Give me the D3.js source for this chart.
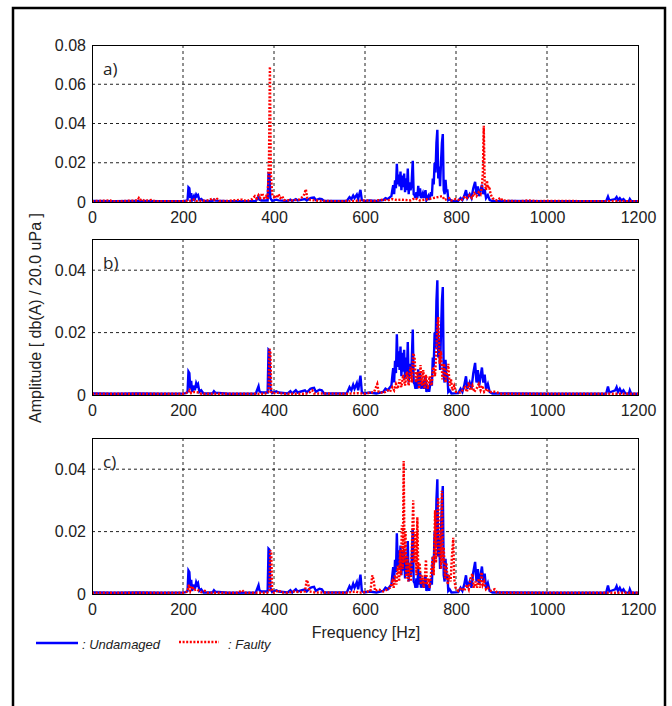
<!DOCTYPE html>
<html lang="en">
<head>
<meta charset="utf-8">
<title>Spectrum comparison</title>
<script src="https://cdn.jsdelivr.net/npm/d3@7"></script>
<style>
  body { margin: 0; background: #fff; }
  svg text { font-family: "Liberation Sans", Arial, sans-serif; fill: #222; }
  .grid line { stroke: #222; stroke-width: 1; stroke-dasharray: 3,3; }
  .undamaged { fill: none; stroke: #0000ff; stroke-width: 2.4; stroke-linejoin: miter; }
  .faulty { fill: none; stroke: #ff0000; stroke-width: 2.4; stroke-dasharray: 2,1.6; }
</style>
</head>
<body>
<script>
// ---- data (frequency Hz, amplitude) ----
const xTicks = [0, 200, 400, 600, 800, 1000, 1200];
const yTicksA = [0, 0.02, 0.04, 0.06, 0.08];
const yTicksBC = [0, 0.02, 0.04];
const panelLabels = ["a)", "b)", "c)"];
const legendNames = ["Undamaged", "Faulty"];

// same baseline spectrum in all three panels
const undamaged = [[0,0.0005],[50,0.0004],[100,0.0005],[150,0.0004],[200,0.0005],[206,0.0006],[210,0.001],[212,0.0075],[214,0.007],[216,0.002],[218,0.0045],[220,0.001],[224,0.003],[226,0.0015],[229,0.0038],[231,0.003],[233,0.0035],[236,0.001],[240,0.0015],[245,0.0005],[265,0.0005],[268,0.0012],[271,0.0007],[300,0.0004],[360,0.0005],[366,0.0028],[368,0.0012],[372,0.0008],[386,0.0008],[388,0.0145],[390,0.0142],[392,0.002],[396,0.0006],[405,0.0012],[410,0.0008],[430,0.0005],[436,0.0012],[440,0.0005],[448,0.0015],[452,0.0008],[468,0.0015],[472,0.0008],[480,0.002],[484,0.0022],[488,0.0023],[492,0.001],[500,0.0017],[505,0.0015],[510,0.0005],[560,0.0005],[566,0.0025],[570,0.0015],[574,0.0033],[577,0.002],[582,0.0038],[585,0.0015],[590,0.0062],[593,0.001],[598,0.0005],[610,0.0008],[625,0.0005],[640,0.001],[645,0.002],[650,0.0015],[655,0.0025],[658,0.003],[660,0.006],[662,0.0086],[664,0.004],[666,0.011],[668,0.007],[670,0.0195],[672,0.009],[674,0.014],[676,0.008],[678,0.0155],[680,0.006],[682,0.0135],[684,0.0075],[686,0.0145],[688,0.005],[690,0.012],[692,0.006],[694,0.017],[696,0.004],[698,0.01],[700,0.006],[702,0.008],[705,0.021],[707,0.004],[709,0.0035],[711,0.002],[713,0.005],[715,0.002],[717,0.0082],[719,0.003],[721,0.007],[723,0.002],[727,0.0045],[729,0.002],[733,0.006],[735,0.001],[739,0.003],[741,0.001],[745,0.005],[747,0.003],[749,0.012],[751,0.009],[753,0.02],[755,0.015],[757,0.03],[759,0.0368],[761,0.012],[763,0.018],[765,0.008],[767,0.02],[769,0.03],[771,0.0346],[773,0.006],[775,0.004],[777,0.0113],[779,0.005],[781,0.0065],[783,0.001],[786,0.0015],[790,0.0005],[805,0.0006],[810,0.002],[814,0.001],[818,0.003],[822,0.006],[825,0.002],[830,0.004],[834,0.002],[838,0.007],[842,0.0103],[845,0.004],[848,0.008],[851,0.003],[854,0.006],[857,0.0088],[860,0.004],[863,0.0065],[866,0.002],[870,0.0035],[874,0.001],[880,0.0005],[1000,0.0004],[1130,0.0004],[1134,0.0027],[1137,0.0008],[1150,0.0015],[1153,0.0025],[1156,0.001],[1160,0.002],[1164,0.0008],[1168,0.0015],[1172,0.0005],[1180,0.0004],[1182,0.0015],[1185,0.0004],[1200,0.0004]];

const faultyA = [[0,0.0004],[40,0.0008],[45,0.0003],[100,0.0008],[103,0.002],[106,0.001],[110,0.0015],[115,0.0006],[130,0.001],[140,0.0004],[200,0.0004],[215,0.0006],[225,0.0012],[230,0.0005],[255,0.0008],[265,0.0018],[270,0.001],[275,0.0016],[280,0.0005],[300,0.0006],[330,0.0012],[340,0.0005],[352,0.0015],[358,0.003],[362,0.0018],[366,0.0035],[370,0.002],[374,0.0045],[378,0.002],[382,0.003],[386,0.0015],[389,0.022],[391,0.069],[393,0.015],[396,0.004],[400,0.0025],[403,0.0035],[406,0.002],[410,0.004],[414,0.002],[418,0.003],[422,0.001],[440,0.0008],[455,0.0012],[465,0.003],[470,0.0065],[473,0.002],[480,0.001],[500,0.0006],[540,0.0004],[580,0.0006],[600,0.0008],[620,0.0005],[640,0.0012],[650,0.0008],[660,0.0015],[670,0.001],[680,0.0012],[700,0.0008],[710,0.002],[720,0.0008],[740,0.0015],[760,0.0025],[770,0.003],[775,0.001],[785,0.002],[790,0.0008],[800,0.0015],[810,0.0008],[815,0.0015],[820,0.003],[825,0.002],[830,0.0035],[835,0.002],[840,0.0045],[845,0.003],[850,0.005],[854,0.004],[857,0.008],[859,0.015],[861,0.0388],[863,0.01],[866,0.006],[868,0.011],[870,0.007],[873,0.008],[876,0.004],[880,0.002],[885,0.0012],[890,0.0008],[898,0.0022],[902,0.0008],[920,0.0006],[940,0.0004],[960,0.0008],[980,0.0004],[1000,0.0006],[1100,0.0004],[1200,0.0004]];

const faultyB = [[0,0.0004],[200,0.0004],[212,0.0008],[215,0.0015],[218,0.0006],[225,0.001],[235,0.0008],[240,0.0004],[380,0.0004],[388,0.001],[390,0.0148],[392,0.014],[394,0.001],[398,0.0004],[405,0.0008],[420,0.0004],[470,0.0004],[478,0.0008],[484,0.0015],[488,0.0005],[560,0.0004],[585,0.0006],[600,0.0004],[615,0.0008],[620,0.001],[627,0.0035],[630,0.001],[640,0.0006],[650,0.0015],[655,0.001],[660,0.0025],[664,0.0015],[668,0.0035],[672,0.002],[676,0.005],[680,0.0025],[684,0.0065],[688,0.003],[692,0.0075],[696,0.003],[700,0.009],[703,0.004],[706,0.0134],[709,0.012],[712,0.004],[716,0.0075],[719,0.002],[722,0.0096],[725,0.003],[728,0.008],[731,0.002],[734,0.0065],[738,0.002],[742,0.006],[746,0.003],[750,0.009],[754,0.006],[757,0.015],[759,0.022],[761,0.025],[764,0.01],[767,0.014],[770,0.005],[774,0.01],[777,0.004],[783,0.0100],[786,0.003],[789,0.005],[792,0.0015],[796,0.003],[800,0.001],[810,0.0008],[820,0.0025],[824,0.001],[828,0.004],[832,0.0015],[836,0.003],[840,0.001],[845,0.002],[850,0.0035],[854,0.0015],[858,0.003],[862,0.001],[868,0.002],[874,0.0008],[880,0.0012],[900,0.0004],[1200,0.0004]];

const faultyC = [[0,0.0004],[200,0.0004],[210,0.0008],[213,0.003],[216,0.001],[220,0.0025],[224,0.0012],[230,0.0015],[240,0.0006],[248,0.001],[255,0.0004],[320,0.0004],[330,0.0012],[335,0.0004],[385,0.0004],[390,0.001],[392,0.014],[394,0.013],[396,0.001],[400,0.0004],[410,0.0012],[416,0.0005],[430,0.0004],[445,0.0008],[455,0.0006],[468,0.0008],[472,0.0045],[475,0.0035],[478,0.0008],[490,0.0005],[560,0.0004],[580,0.0008],[586,0.0004],[600,0.0006],[612,0.001],[616,0.006],[619,0.0045],[622,0.001],[630,0.0015],[640,0.0008],[650,0.0015],[655,0.002],[660,0.004],[663,0.002],[666,0.006],[669,0.003],[672,0.009],[675,0.004],[677,0.014],[679,0.006],[681,0.022],[683,0.008],[685,0.0426],[687,0.01],[689,0.02],[691,0.005],[693,0.012],[695,0.004],[698,0.01],[701,0.004],[704,0.02],[706,0.030],[708,0.01],[711,0.02],[713,0.006],[715,0.0246],[717,0.008],[720,0.01],[723,0.003],[726,0.006],[729,0.002],[732,0.006],[734,0.011],[736,0.003],[739,0.005],[742,0.002],[746,0.008],[749,0.012],[751,0.006],[754,0.0268],[756,0.01],[758,0.02],[761,0.031],[763,0.012],[765,0.02],[767,0.008],[769,0.0331],[771,0.01],[773,0.015],[776,0.005],[779,0.01],[782,0.003],[785,0.006],[788,0.004],[791,0.012],[794,0.018],[796,0.005],[799,0.002],[805,0.001],[812,0.002],[818,0.001],[824,0.003],[828,0.0015],[832,0.005],[836,0.0065],[839,0.002],[843,0.004],[846,0.002],[850,0.005],[853,0.002],[856,0.007],[859,0.003],[862,0.004],[866,0.0015],[870,0.002],[876,0.001],[885,0.0015],[890,0.0005],[900,0.0004],[1200,0.0004]];

// ---- layout ----
const W = 672, H = 706;
const left = 92, right = 638;
const panels = [
  {label: panelLabels[0], faulty: faultyA, yMax: 0.08, ticks: yTicksA, top: 45, bottom: 202},
  {label: panelLabels[1], faulty: faultyB, yMax: 0.05, ticks: yTicksBC, top: 239, bottom: 395},
  {label: panelLabels[2], faulty: faultyC, yMax: 0.05, ticks: yTicksBC, top: 438, bottom: 594}
];

const svg = d3.select("body").append("svg")
  .attr("width", W).attr("height", H);

// outer frame
svg.append("rect")
  .attr("x", 13).attr("y", 8)
  .attr("width", 652).attr("height", 720)
  .attr("fill", "none").attr("stroke", "#000").attr("stroke-width", 2.5);

const x = d3.scaleLinear().domain([0, 1200]).range([left, right]);
const fmt = d => d === 0 ? "0" : d.toFixed(2);

panels.forEach((p, i) => {
  const y = d3.scaleLinear().domain([0, p.yMax]).range([p.bottom, p.top]);
  const g = svg.append("g");

  g.append("clipPath").attr("id", "clip" + i)
    .append("rect")
    .attr("x", left).attr("y", p.top - 1)
    .attr("width", right - left).attr("height", p.bottom - p.top + 2);

  // grid
  const grid = g.append("g").attr("class", "grid");
  grid.selectAll(".gx").data(xTicks.slice(1, -1)).join("line")
    .attr("x1", d => x(d)).attr("x2", d => x(d))
    .attr("y1", p.top).attr("y2", p.bottom);
  grid.selectAll(".gy").data(p.ticks.filter(t => t > 0 && t < p.yMax)).join("line")
    .attr("x1", left).attr("x2", right)
    .attr("y1", d => y(d)).attr("y2", d => y(d));

  // axes
  const xa = g.append("g")
    .attr("transform", "translate(0," + p.bottom + ")")
    .call(d3.axisBottom(x).tickValues(xTicks).tickFormat(d3.format("d")).tickSize(0).tickPadding(10));
  xa.select(".domain").remove();
  xa.selectAll("text").style("font-size", "16px").attr("fill", "#222");

  const ya = g.append("g")
    .attr("transform", "translate(" + left + ",0)")
    .call(d3.axisLeft(y).tickValues(p.ticks).tickFormat(fmt).tickSize(0).tickPadding(6));
  ya.select(".domain").remove();
  ya.selectAll("text").style("font-size", "16px").attr("fill", "#222");

  const line = d3.line().x(d => x(d[0])).y(d => y(d[1]));
  const plot = g.append("g").attr("clip-path", "url(#clip" + i + ")");
  plot.append("path").datum(undamaged).attr("class", "undamaged").attr("d", line);
  plot.append("path").datum(p.faulty).attr("class", "faulty").attr("d", line);

  // box
  g.append("rect")
    .attr("x", left + 0.5).attr("y", p.top + 0.5)
    .attr("width", right - left).attr("height", p.bottom - p.top)
    .attr("fill", "none").attr("stroke", "#000").attr("stroke-width", 1);

  g.append("text")
    .attr("x", left + 11).attr("y", p.top + 30)
    .style("font-family", "'Open Sans', sans-serif")
    .style("font-size", "17px")
    .text(p.label);
});

// axis titles
svg.append("text")
  .attr("transform", "translate(41,318) rotate(-90)")
  .attr("text-anchor", "middle")
  .style("font-size", "16px")
  .text("Amplitude [ db(A) / 20.0 uPa ]");

svg.append("text")
  .attr("x", 366).attr("y", 638)
  .attr("text-anchor", "middle")
  .style("font-size", "16px")
  .text("Frequency [Hz]");

// legend
const leg = svg.append("g").attr("transform", "translate(0,643)");
leg.append("line").attr("x1", 36).attr("x2", 78).attr("y1", 0).attr("y2", 0)
  .attr("class", "undamaged");
leg.append("text").attr("x", 82).attr("y", 6)
  .style("font-size", "13px").style("font-style", "italic").attr("fill", "#333")
  .text(":  " + legendNames[0]);
leg.append("line").attr("x1", 179).attr("x2", 219).attr("y1", -1).attr("y2", -1)
  .attr("class", "faulty");
leg.append("text").attr("x", 228).attr("y", 6)
  .style("font-size", "13px").style("font-style", "italic").attr("fill", "#333")
  .text(":  " + legendNames[1]);
</script>
</body>
</html>
